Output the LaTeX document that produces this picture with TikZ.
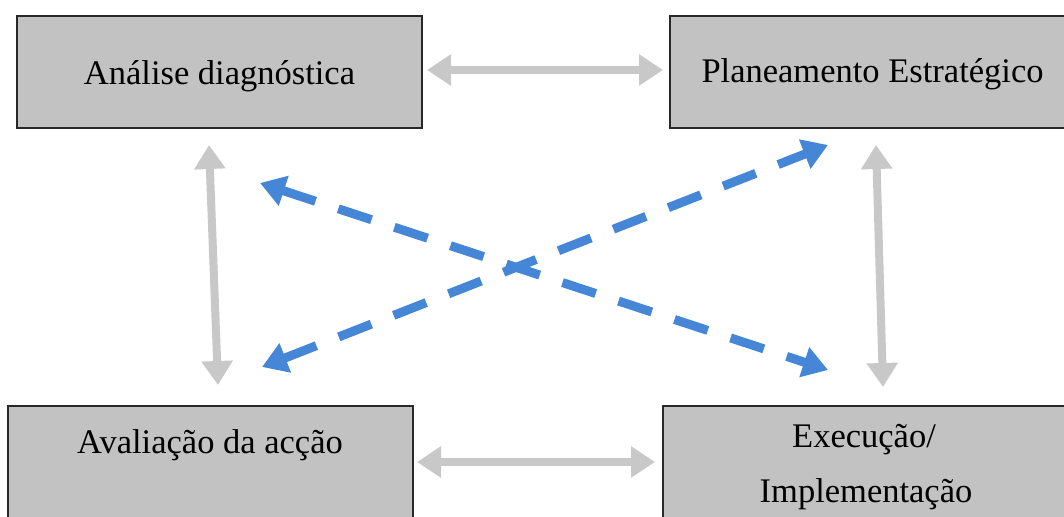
\documentclass[tikz,border=0pt]{standalone}
\usepackage{fontspec}
\setmainfont{Liberation Serif}
\usetikzlibrary{arrows.meta,calc}
\definecolor{boxfill}{RGB}{194,194,194}
\definecolor{boxline}{RGB}{40,40,40}
\definecolor{linkgray}{RGB}{200,200,200}
\definecolor{linkblue}{RGB}{70,134,214}
\begin{document}
\begin{tikzpicture}[x=1pt,y=-1pt,
  stage/.style={draw=boxline,line width=2pt,fill=boxfill,minimum width=405pt,
    minimum height=112pt,inner sep=0pt,outer sep=0pt},
  caption/.style={font=\fontsize{34.5}{41}\selectfont,anchor=base,inner sep=0pt},
  grayhead/.style={Triangle[width=30pt,length=24pt]},
  bluehead/.style={Triangle[width=30pt,length=25pt]},
  twoway/.style={draw=linkgray,line width=8pt,{Triangle[width=30pt,length=24pt]}-{Triangle[width=30pt,length=24pt]}},
  cross/.style={draw=linkblue,line width=9pt,dash pattern=on 35pt off 24pt,
    {Triangle[width=30pt,length=25pt]}-{Triangle[width=30pt,length=25pt]}}]
\useasboundingbox (0,0) rectangle (1064,516);
\clip (0,0) rectangle (1064,516);

% the four stages
\node[stage] (A) at (219.5,72) {};
\node[stage] (P) at (872.5,72) {};
\node[stage] (V) at (210.5,462) {};
\node[stage] (E) at (865.5,462) {};

\node[caption] (At) at (219.5,85) {Análise diagnóstica};
\node[caption] (Pt) at (872.5,83) {Planeamento Estratégico};
\node[caption] (Vt) at (210,453) {Avaliação da acção};
\node[caption] (Et1) at (864,447) {Execução/};
\node[caption] (Et2) at (866,502) {Implementação};

% two-way links between neighbouring stages
\draw[twoway, shorten <=5pt, shorten >=7pt] ($(A.east)+(0,-2)$) -- ($(P.west)+(0,-2)$);
\draw[twoway, shorten <=4pt, shorten >=8pt] (V.east) -- (E.west);
\draw[twoway] ($(A.south)+(-10.5,17)$) -- ($(V.north)+(7.5,-21)$);
\draw[twoway] ($(P.south)+(3.5,17)$) -- ($(E.north)+(17.5,-19)$);

% diagonal feedback links
\coordinate (d1a) at (260,183);
\coordinate (d1b) at (828,370);
\coordinate (d2a) at (262,367);
\coordinate (d2b) at (828,145);
\draw[cross] (d1a) -- (d1b);
\draw[cross] (d2a) -- (d2b);
\end{tikzpicture}
\end{document}
